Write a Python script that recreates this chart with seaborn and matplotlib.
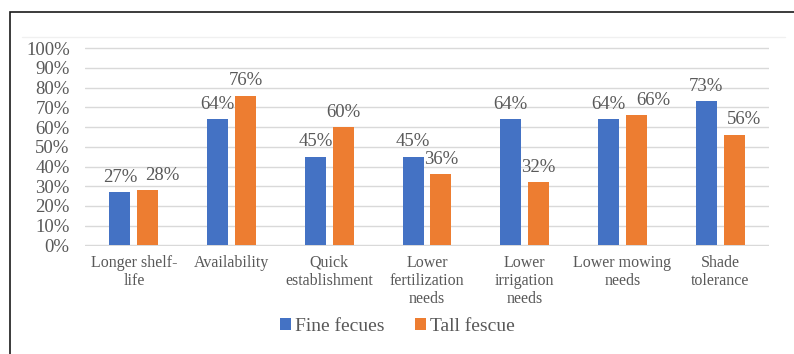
import matplotlib
matplotlib.use("Agg")
import matplotlib.pyplot as plt
from matplotlib.lines import Line2D
from matplotlib.patches import Rectangle
from matplotlib.ticker import FuncFormatter, MultipleLocator
import pandas as pd
import seaborn as sns

# Survey results: share of respondents citing each attribute
categories = [
    "Longer shelf-\nlife",
    "Availability",
    "Quick\nestablishment",
    "Lower\nfertilization\nneeds",
    "Lower\nirrigation\nneeds",
    "Lower mowing\nneeds",
    "Shade\ntolerance",
]
series_names = ["Fine fecues", "Tall fescue"]
fine_fescue = [27, 64, 45, 45, 64, 64, 73]
tall_fescue = [28, 76, 60, 36, 32, 66, 56]
colors = ["#4472C4", "#ED7D31"]

# horizontal nudges (points) for labels that would otherwise collide
label_dx = {
    "Fine fecues": [0, 0, 0, 0, 0, 0, 0],
    "Tall fescue": [10.5, 0, 0, 0, 0, 12, 7],
}

df = pd.DataFrame({
    "category": categories * 2,
    "series": [series_names[0]] * len(categories) + [series_names[1]] * len(categories),
    "value": fine_fescue + tall_fescue,
})

sns.set_theme(style="white")
plt.rcParams["font.family"] = ["Liberation Serif", "DejaVu Serif"]
text_color = "#595959"

W, H = 794, 354
fig = plt.figure(figsize=(W / 100, H / 100), dpi=100)
ax = fig.add_axes([85 / W, 1 - 246.3 / H, (769 - 85) / W, (246.3 - 47.3) / H])

sns.barplot(
    data=df, x="category", y="value", hue="series",
    order=categories, hue_order=series_names, palette=colors,
    width=0.57, gap=0.245, linewidth=0, saturation=1, ax=ax, legend=True,
)

ax.set_ylim(-0.5, 100.5)
ax.set_xlim(-0.5, len(categories) - 0.5)
ax.yaxis.set_major_locator(MultipleLocator(10))
ax.yaxis.set_major_formatter(FuncFormatter(lambda v, _: f"{v:.0f}%"))
ax.grid(axis="y", color="#d9d9d9", linewidth=1.0)
ax.set_axisbelow(True)
for s in ax.spines.values():
    s.set_visible(False)
ax.set_xlabel("")
ax.set_ylabel("")
ax.tick_params(axis="y", length=0, pad=11, labelsize=13.5, labelcolor=text_color)
ax.tick_params(axis="x", length=0, pad=6, labelsize=11.5, labelcolor=text_color)
for lbl in ax.get_xticklabels():
    lbl.set_linespacing(1.2)

# value labels above each bar
for name, container in zip(series_names, ax.containers):
    vals = df.loc[df["series"] == name, "value"].tolist()
    for bar, v, dx in zip(container.patches, vals, label_dx[name]):
        ax.annotate(
            f"{v}%", (bar.get_x() + bar.get_width() / 2, v),
            xytext=(dx, 7.6), textcoords="offset points",
            ha="center", va="baseline", fontsize=13.5, color=text_color,
        )

handles, labels = ax.get_legend_handles_labels()
ax.get_legend().remove()
fig.legend(
    handles, labels, loc="center", bbox_to_anchor=(0.5005, 1 - 326.7 / H),
    ncol=2, frameon=False, fontsize=14, labelcolor=text_color,
    handlelength=0.57, handleheight=0.57, handletextpad=0.2, columnspacing=1.55,
)

# chart frame and faint plot-area edge
fig.add_artist(Rectangle((10 / W, -0.1), 1.2, 1.1 - 12 / H, transform=fig.transFigure,
                         fill=False, edgecolor="#1a1a1a", linewidth=1.2))
fig.add_artist(Line2D([22 / W, 785 / W], [1 - 37 / H] * 2, transform=fig.transFigure,
                      color="#f0f0f0", linewidth=1))

fig.savefig("out.png", dpi=100)
